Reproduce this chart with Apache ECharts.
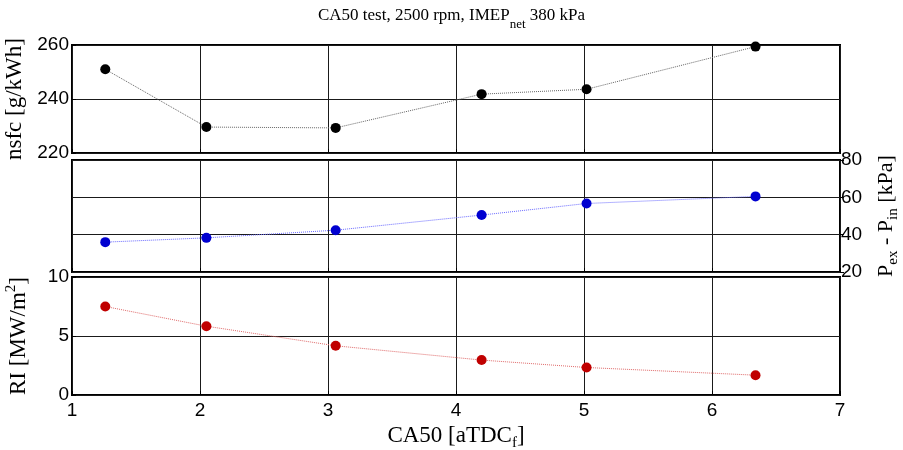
<!DOCTYPE html>
<html>
<head>
<meta charset="utf-8">
<script src="https://cdn.jsdelivr.net/npm/echarts@6/dist/echarts.min.js"></script>
<style>html,body{margin:0;padding:0;background:#fff}#c{width:903px;height:450px}</style>
</head>
<body>
<div id="c"></div>
<script>
// CA50 positions [aTDC_f]
const ca50 = [1.26, 2.05, 3.06, 4.20, 5.02, 6.34];
// nsfc [g/kWh]
const nsfc = [251.0, 229.6, 229.3, 241.8, 243.6, 259.4];
// Pex - Pin [kPa]
const dp = [36.0, 38.3, 42.4, 50.5, 56.7, 60.5];
// RI [MW/m2]
const ri = [7.50, 5.83, 4.17, 2.96, 2.33, 1.68];
// axis ranges / ticks
const xTicks = [1, 2, 3, 4, 5, 6, 7];
const nsfcTicks = [220, 240, 260];
const dpTicks = [20, 40, 60, 80];
const riTicks = [0, 5, 10];

const pairs = (xs, ys) => xs.map((x, i) => [x, ys[i]]);

const serif = 'Liberation Serif';
const sans = 'Liberation Sans';
const gridLine = { show: true, lineStyle: { color: '#1a1a1a', width: 1 } };

function xAxis(gi, showLabels) {
  const ax = {
    type: 'value', gridIndex: gi,
    min: xTicks[0], max: xTicks[xTicks.length - 1], interval: 1,
    axisLine: { show: false },
    axisTick: { show: true, inside: true, length: 4, lineStyle: { color: '#000' } },
    axisLabel: { show: showLabels, color: '#000', fontFamily: sans, fontSize: 19, margin: 6 },
    splitLine: gridLine
  };
  if (showLabels) {
    ax.name = '{m|CA50 [aTDC}{s|f}{m|]}';
    ax.nameLocation = 'middle';
    ax.nameGap = 26;
    ax.nameTextStyle = {
      rich: {
        m: { fontFamily: serif, fontSize: 23, color: '#000', lineHeight: 30, verticalAlign: 'middle' },
        s: { fontFamily: serif, fontSize: 15, color: '#000', lineHeight: 12, verticalAlign: 'bottom' }
      }
    };
  }
  return ax;
}

function yAxis(gi, ticks, pos, name, rich, gap) {
  return {
    type: 'value', gridIndex: gi, position: pos,
    min: ticks[0], max: ticks[ticks.length - 1], interval: ticks[1] - ticks[0],
    axisLine: { show: false },
    axisTick: { show: true, inside: pos === 'left', length: 4, lineStyle: { color: '#000' } },
    axisLabel: { color: '#000', fontFamily: sans, fontSize: 19, margin: pos === 'left' ? 3 : 1 },
    splitLine: gridLine,
    name: name, nameLocation: 'middle', nameRotate: 90, nameGap: gap,
    nameTextStyle: { rich: rich }
  };
}

const grids = [
  { left: 72, right: 63, top: 45, height: 108 },
  { left: 72, right: 63, top: 160, height: 112 },
  { left: 72, right: 63, top: 277, height: 118 }
].map(g => Object.assign(g, {
  show: true, borderColor: '#000', borderWidth: 2, backgroundColor: 'transparent',
  containLabel: false, outerBoundsMode: 'none'
}));

function series(gi, data, mcolor, lcolor) {
  return {
    type: 'line', xAxisIndex: gi, yAxisIndex: gi, data: data,
    symbol: 'circle', symbolSize: 10, showSymbol: true,
    itemStyle: { color: mcolor, borderWidth: 0 },
    lineStyle: { color: lcolor, width: 1, type: 'dotted' },
    animation: false, silent: true, z: 5
  };
}

const chart = echarts.init(document.getElementById('c'), null, { renderer: 'canvas' });
chart.setOption({
  animation: false,
  backgroundColor: '#fff',
  title: {
    text: '{m|CA50 test, 2500 rpm, IMEP}{s|net}{m| 380 kPa}',
    left: 'center', top: -4,
    textStyle: {
      fontWeight: 'normal',
      rich: {
        m: { fontFamily: serif, fontSize: 17, fontWeight: 'normal', color: '#000', lineHeight: 30, verticalAlign: 'middle' },
        s: { fontFamily: serif, fontSize: 13, fontWeight: 'normal', color: '#000', lineHeight: 11, verticalAlign: 'bottom' }
      }
    }
  },
  grid: grids,
  xAxis: [xAxis(0, false), xAxis(1, false), xAxis(2, true)],
  yAxis: [
    yAxis(0, nsfcTicks, 'left', '{m|nsfc [g/kWh]}', {
      m: { fontFamily: serif, fontSize: 23, color: '#000', lineHeight: 28 }
    }, 42),
    yAxis(1, dpTicks, 'right', '{m|P}{s|ex}{m| - P}{s|in}{m| [kPa]}', {
      m: { fontFamily: serif, fontSize: 22, color: '#000', lineHeight: 30, verticalAlign: 'middle' },
      s: { fontFamily: serif, fontSize: 15, color: '#000', lineHeight: 12, verticalAlign: 'bottom' }
    }, 31),
    yAxis(2, riTicks, 'left', '{m|RI [MW/m}{p|2}{m|]}', {
      m: { fontFamily: serif, fontSize: 23, color: '#000', lineHeight: 30, verticalAlign: 'middle' },
      p: { fontFamily: serif, fontSize: 15, color: '#000', lineHeight: 12, verticalAlign: 'top' }
    }, 38)
  ],
  series: [
    series(0, pairs(ca50, nsfc), '#000000', '#666666'),
    series(1, pairs(ca50, dp), '#0000d0', '#6a6aff'),
    series(2, pairs(ca50, ri), '#c00000', '#e06a6a')
  ]
});
</script>
</body>
</html>
